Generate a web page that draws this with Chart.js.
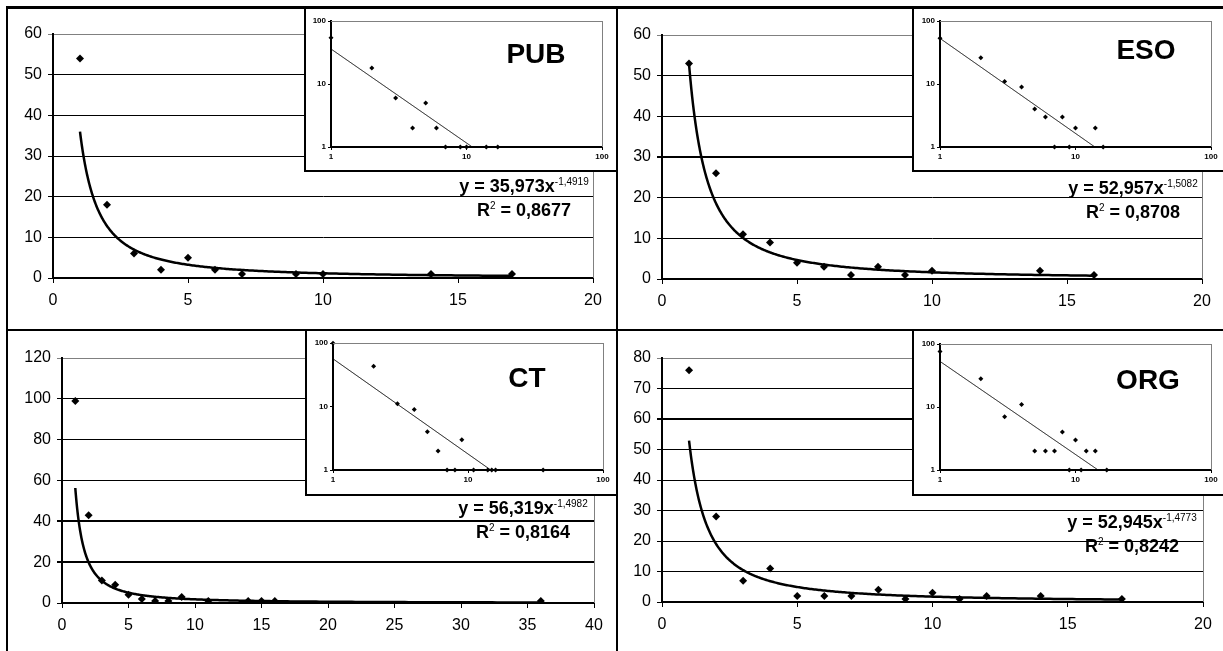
<!DOCTYPE html>
<html>
<head>
<meta charset="utf-8">
<script src="https://cdn.jsdelivr.net/npm/chart.js@4"></script>
<style>
  body { margin: 0; background: #fff; }
  #wrap { position: relative; width: 1223px; height: 651px; overflow: hidden; background: #fff; font-family: "Liberation Sans", Arial, sans-serif; }
  canvas { position: absolute; }
  .inset { background: #fff; }
  .line { position: absolute; background: #000; }
  .eq { position: absolute; width: 200px; text-align: center; font-weight: bold; font-size: 18px; line-height: 24px; color: #000; }
  .eq sup { font-size: 10px; font-weight: normal; vertical-align: 7px; line-height: 0; }
  .title { position: absolute; width: 120px; text-align: center; font-weight: bold; font-size: 28px; line-height: 30px; color: #000; }
</style>
</head>
<body>
<div id="wrap">
  <canvas id="mainPub" width="610" height="323" style="left:7px;top:7px"></canvas>
  <canvas id="mainEso" width="606" height="323" style="left:617px;top:7px"></canvas>
  <canvas id="mainCt" width="610" height="321" style="left:7px;top:330px"></canvas>
  <canvas id="mainOrg" width="606" height="321" style="left:617px;top:330px"></canvas>

  <canvas id="logPub" class="inset" width="310" height="164" style="left:305px;top:7px"></canvas>
  <canvas id="logEso" class="inset" width="310" height="164" style="left:913px;top:7px"></canvas>
  <canvas id="logCt" class="inset" width="309" height="165" style="left:306px;top:330px"></canvas>
  <canvas id="logOrg" class="inset" width="310" height="165" style="left:913px;top:330px"></canvas>

  <!-- panel frame -->
  <div class="line" style="left:6px;top:6px;width:1217px;height:3px"></div>
  <div class="line" style="left:6px;top:6px;width:2px;height:645px"></div>
  <div class="line" style="left:616px;top:6px;width:2px;height:645px"></div>
  <div class="line" style="left:6px;top:329px;width:1217px;height:2px"></div>
  <!-- inset frames -->
  <div class="line" style="left:304px;top:6px;width:2px;height:166px"></div>
  <div class="line" style="left:304px;top:170px;width:312px;height:2px"></div>
  <div class="line" style="left:912px;top:6px;width:2px;height:166px"></div>
  <div class="line" style="left:912px;top:170px;width:311px;height:2px"></div>
  <div class="line" style="left:305px;top:329px;width:2px;height:167px"></div>
  <div class="line" style="left:305px;top:494px;width:311px;height:2px"></div>
  <div class="line" style="left:912px;top:329px;width:2px;height:167px"></div>
  <div class="line" style="left:912px;top:494px;width:311px;height:2px"></div>

  <div class="title" style="left:476px;top:39px">PUB</div>
  <div class="title" style="left:1086px;top:35px">ESO</div>
  <div class="title" style="left:467px;top:363px">CT</div>
  <div class="title" style="left:1088px;top:365px">ORG</div>

  <div class="eq" style="left:424px;top:174px">y = 35,973x<sup>-1,4919</sup><br>R<sup>2</sup> = 0,8677</div>
  <div class="eq" style="left:1033px;top:176px">y = 52,957x<sup>-1,5082</sup><br>R<sup>2</sup> = 0,8708</div>
  <div class="eq" style="left:423px;top:496px">y = 56,319x<sup>-1,4982</sup><br>R<sup>2</sup> = 0,8164</div>
  <div class="eq" style="left:1032px;top:510px">y = 52,945x<sup>-1,4773</sup><br>R<sup>2</sup> = 0,8242</div>
</div>
<script>
// --- data ---
const pubX = [1, 2, 3, 4, 5, 6, 7, 9, 10, 14, 17];
const pubY = [54, 18, 6, 2, 5, 2, 1, 1, 1, 1, 1];
const esoX = [1, 2, 3, 4, 5, 6, 7, 8, 9, 10, 14, 16];
const esoY = [53, 26, 11, 9, 4, 3, 1, 3, 1, 2, 2, 1];
const ctX = [1, 2, 3, 4, 5, 6, 7, 8, 9, 11, 14, 15, 16, 36];
const ctY = [99, 43, 11, 9, 4, 2, 1, 1, 3, 1, 1, 1, 1, 1];
const orgX = [1, 2, 3, 4, 5, 6, 7, 8, 9, 10, 11, 12, 14, 17];
const orgY = [76, 28, 7, 11, 2, 2, 2, 4, 1, 3, 1, 2, 2, 1];

// power trend lines: [coefficient, exponent]
const pubFit = [35.973, -1.4919];
const esoFit = [52.957, -1.5082];
const ctFit = [56.319, -1.4982];
const orgFit = [52.945, -1.4773];

// axis ticks
const pubYTicks = [0, 10, 20, 30, 40, 50, 60];
const esoYTicks = [0, 10, 20, 30, 40, 50, 60];
const ctYTicks = [0, 20, 40, 60, 80, 100, 120];
const orgYTicks = [0, 10, 20, 30, 40, 50, 60, 70, 80];
const xTicks20 = [0, 5, 10, 15, 20];
const xTicks40 = [0, 5, 10, 15, 20, 25, 30, 35, 40];
const logTicks = [1, 10, 100];

Chart.defaults.font.family = '"Liberation Sans", Arial, sans-serif';
Chart.defaults.color = '#000';

const fitLine = {
  id: 'fitLine',
  afterDatasetsDraw(chart, args, o) {
    const { ctx, chartArea: a, scales: { x, y } } = chart;
    const x0 = o.from, x1 = o.to;
    ctx.save();
    ctx.beginPath();
    ctx.rect(a.left, a.top, a.right - a.left, a.bottom - a.top);
    ctx.clip();
    ctx.beginPath();
    for (let i = 0; i <= 300; i++) {
      const xv = x0 * Math.pow(x1 / x0, i / 300);
      const yv = o.fit[0] * Math.pow(xv, o.fit[1]);
      const px = x.getPixelForValue(xv), py = y.getPixelForValue(yv);
      if (i === 0) ctx.moveTo(px, py); else ctx.lineTo(px, py);
    }
    ctx.lineWidth = o.width;
    ctx.strokeStyle = '#000';
    ctx.stroke();
    ctx.restore();
  }
};

const frame = {
  id: 'frame',
  afterDraw(chart, args, o) {
    const { ctx, chartArea: a } = chart;
    ctx.save();
    ctx.strokeStyle = '#808080';
    ctx.lineWidth = 1;
    ctx.beginPath();
    if (o.top) { ctx.moveTo(a.left, a.top + 0.5); ctx.lineTo(a.right + 0.5, a.top + 0.5); }
    ctx.moveTo(a.right + 0.5, a.top); ctx.lineTo(a.right + 0.5, a.bottom);
    ctx.stroke();
    ctx.restore();
  }
};

function points(xs, ys) {
  return xs.map((x, i) => ({ x: x, y: ys[i] }));
}

function mainChart(id, xs, ys, fit, yTicks, xTicks, bold, box) {
  const yMax = yTicks[yTicks.length - 1];
  const xMax = xTicks[xTicks.length - 1];
  new Chart(document.getElementById(id), {
    type: 'scatter',
    data: {
      datasets: [{
        data: points(xs, ys),
        pointStyle: 'rectRot',
        pointRadius: 4,
        backgroundColor: '#000',
        borderColor: '#000',
        borderWidth: 0
      }]
    },
    options: {
      responsive: false,
      animation: false,
      events: [],
      layout: { padding: { left: 0, right: box.r, top: box.t, bottom: 0 } },
      plugins: {
        legend: { display: false },
        tooltip: { enabled: false },
        fitLine: { fit: fit, from: xs[0], to: xs[xs.length - 1], width: 2.5 },
        frame: { top: false }
      },
      scales: {
        x: {
          type: 'linear', min: 0, max: xMax,
          afterBuildTicks: s => { s.ticks = xTicks.map(v => ({ value: v })); },
          afterFit: s => { s.height = box.b; },
          ticks: { font: { size: 16 }, padding: 8, maxRotation: 0, color: '#000' },
          grid: { drawOnChartArea: false, tickLength: 5, color: '#000' },
          border: { color: '#000', width: 2 }
        },
        y: {
          min: 0, max: yMax,
          afterBuildTicks: s => { s.ticks = yTicks.map(v => ({ value: v })); },
          afterFit: s => { s.width = box.l; },
          ticks: { font: { size: 16 }, padding: 6, color: '#000' },
          grid: {
            tickLength: 5,
            color: c => (c.tick && c.tick.value === yMax) ? '#808080' : '#000',
            lineWidth: c => (c.tick && bold.includes(c.tick.value)) ? 2 : 1
          },
          border: { color: '#000', width: 2 }
        }
      }
    },
    plugins: [fitLine, frame]
  });
}

function logChart(id, xs, ys, fit, box) {
  new Chart(document.getElementById(id), {
    type: 'scatter',
    data: {
      datasets: [{
        data: points(xs, ys),
        pointStyle: 'rectRot',
        pointRadius: 2.5,
        backgroundColor: '#000',
        borderColor: '#000',
        borderWidth: 0,
        clip: 4
      }]
    },
    options: {
      responsive: false,
      animation: false,
      events: [],
      layout: { padding: { left: 0, right: box.r, top: box.t, bottom: 0 } },
      plugins: {
        legend: { display: false },
        tooltip: { enabled: false },
        fitLine: { fit: fit, from: xs[0], to: xs[xs.length - 1], width: 1 },
        frame: { top: true }
      },
      scales: {
        x: {
          type: 'logarithmic', min: 1, max: 100,
          afterBuildTicks: s => { s.ticks = logTicks.map(v => ({ value: v })); },
          afterFit: s => { s.height = box.b; },
          ticks: { font: { size: 8, weight: 'bold' }, padding: 2, maxRotation: 0, autoSkip: false, callback: v => String(v) },
          grid: { drawOnChartArea: false, tickLength: 3, color: '#000' },
          border: { color: '#000', width: 2 }
        },
        y: {
          type: 'logarithmic', min: 1, max: 100,
          afterBuildTicks: s => { s.ticks = logTicks.map(v => ({ value: v })); },
          afterFit: s => { s.width = box.l; },
          ticks: { font: { size: 8, weight: 'bold' }, padding: 2, autoSkip: false, callback: v => String(v) },
          grid: { drawOnChartArea: false, tickLength: 3, color: '#000' },
          border: { color: '#000', width: 2 }
        }
      }
    },
    plugins: [fitLine, frame]
  });
}

mainChart('mainPub', pubX, pubY, pubFit, pubYTicks, xTicks20, [], { l: 46, r: 24, t: 27, b: 52 });
mainChart('mainEso', esoX, esoY, esoFit, esoYTicks, xTicks20, [30], { l: 45, r: 21, t: 28, b: 51 });
mainChart('mainCt', ctX, ctY, ctFit, ctYTicks, xTicks40, [20, 40], { l: 55, r: 23, t: 28, b: 48 });
mainChart('mainOrg', orgX, orgY, orgFit, orgYTicks, xTicks20, [60], { l: 45, r: 20, t: 28, b: 49 });

logChart('logPub', pubX, pubY, pubFit, { l: 26, r: 13, t: 14, b: 24 });
logChart('logEso', esoX, esoY, esoFit, { l: 27, r: 12, t: 14, b: 24 });
logChart('logCt', ctX, ctY, ctFit, { l: 27, r: 12, t: 13, b: 25 });
logChart('logOrg', orgX, orgY, orgFit, { l: 27, r: 12, t: 14, b: 25 });
</script>
</body>
</html>
